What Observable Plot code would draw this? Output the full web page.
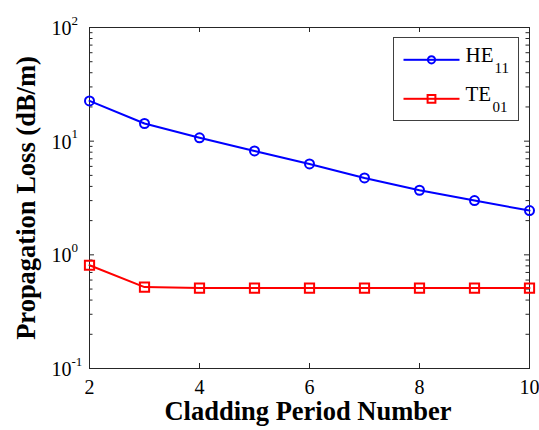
<!DOCTYPE html>
<html>
<head>
<meta charset="utf-8">
<script src="https://cdn.jsdelivr.net/npm/d3@7"></script>
<script src="https://cdn.jsdelivr.net/npm/@observablehq/plot@0.6"></script>
<style>
  html, body { margin: 0; padding: 0; background: #ffffff; }
</style>
</head>
<body>
<div id="chart"></div>
<script>
// ---- data ----
const periods = [2, 3, 4, 5, 6, 7, 8, 9, 10];
const he11 = [22.6, 14.3, 10.7, 8.2, 6.3, 4.75, 3.7, 3.0, 2.45];
const te01 = [0.81, 0.52, 0.51, 0.51, 0.51, 0.51, 0.51, 0.51, 0.51];
const xTicks = [2, 4, 6, 8, 10];
const yDecades = [0.1, 1, 10, 100];
const yExponents = ["-1", "0", "1", "2"];
const seriesNames = ["HE", "TE"];
const seriesSubs = ["11", "01"];
const seriesColors = ["#0000ff", "#ff0000"];
const xLabel = "Cladding Period Number";
const yLabel = "Propagation Loss (dB/m)";

// ---- layout ----
const W = 539, H = 430;
const mL = 89, mR = 10, mT = 27, mB = 62;
const iW = W - mL - mR, iH = H - mT - mB;
const axisColor = "#262626";
const font = "'Liberation Serif', 'Times New Roman', serif";

const heData = periods.map((p, i) => ({x: p, y: he11[i]}));
const teData = periods.map((p, i) => ({x: p, y: te01[i]}));
const yMinor = [];
yDecades.slice(0, -1).forEach(d => { for (let k = 2; k <= 9; k++) yMinor.push(d * k); });
const yTicksAll = yDecades.map((d, i) => ({v: d, e: yExponents[i]}));

const tickLen = 5, minorLen = 3.5;

// legend geometry (pixel offsets from frame top-left)
const legBox = {left: 304, right: 11, top: 10, bottom: 248};
const legRowsY = [32.3, 71.3];

const mid = {lineAnchor: "middle"};

const marks = [
  Plot.frame({stroke: axisColor, strokeWidth: 1}),
  Plot.tickX(xTicks, {x: d => d, insetTop: iH - tickLen, stroke: axisColor}),
  Plot.tickX(xTicks, {x: d => d, insetBottom: iH - tickLen, stroke: axisColor}),
  Plot.tickY(yDecades, {y: d => d, insetRight: iW - tickLen, stroke: axisColor}),
  Plot.tickY(yDecades, {y: d => d, insetLeft: iW - tickLen, stroke: axisColor}),
  Plot.tickY(yMinor, {y: d => d, insetRight: iW - minorLen, stroke: axisColor}),
  Plot.tickY(yMinor, {y: d => d, insetLeft: iW - minorLen, stroke: axisColor}),
  // x tick labels
  Plot.text(xTicks, {x: d => d, frameAnchor: "bottom", ...mid, textAnchor: "middle", text: d => String(d), dy: 18.9, fontSize: 20, fill: "#000"}),
  // y tick labels: base "10" + exponent
  Plot.text(yTicksAll, {y: d => d.v, frameAnchor: "left", ...mid, text: () => "10", textAnchor: "end", dx: -18, dy: 1, fontSize: 20, fill: "#000"}),
  Plot.text(yTicksAll, {y: d => d.v, frameAnchor: "left", ...mid, text: d => d.e, textAnchor: "start", dx: -18, dy: -7, fontSize: 13, fill: "#000"}),
  // axis titles
  Plot.text([xLabel], {frameAnchor: "bottom", ...mid, textAnchor: "middle", text: d => d, dx: -1.5, dy: 43.5, fontSize: 26.5, fontWeight: "bold", fill: "#000"}),
  Plot.text([yLabel], {frameAnchor: "left", ...mid, textAnchor: "middle", text: d => d, rotate: -90, dx: -63.4, dy: 0, fontSize: 26.5, fontWeight: "bold", fill: "#000"}),
  // data
  Plot.line(heData, {x: "x", y: "y", stroke: seriesColors[0], strokeWidth: 2}),
  Plot.dot(heData, {x: "x", y: "y", r: 4.5, symbol: "circle", stroke: seriesColors[0], strokeWidth: 2, fill: "none"}),
  Plot.line(teData, {x: "x", y: "y", stroke: seriesColors[1], strokeWidth: 2}),
  Plot.dot(teData, {x: "x", y: "y", r: 5.2, symbol: "square", stroke: seriesColors[1], strokeWidth: 2, fill: "none"}),
  // legend box
  Plot.frame({fill: "#ffffff", stroke: "#404040", strokeWidth: 1, insetLeft: legBox.left, insetRight: legBox.right, insetTop: legBox.top, insetBottom: legBox.bottom})
];

seriesNames.forEach((name, i) => {
  const cy = legRowsY[i];
  marks.push(
    Plot.frame({fill: seriesColors[i], stroke: null, insetLeft: 314, insetRight: 70, insetTop: cy - 1, insetBottom: iH - cy - 1}),
    Plot.dot([name], {frameAnchor: "top-left", dx: 342, dy: cy, r: i === 0 ? 3.6 : 4.4, symbol: i === 0 ? "circle" : "square", stroke: seriesColors[i], strokeWidth: 2, fill: "none"}),
    Plot.text([name], {frameAnchor: "top-left", ...mid, text: d => d, textAnchor: "start", dx: 376, dy: cy - 4.3, fontSize: 21, fill: "#000"}),
    Plot.text([seriesSubs[i]], {frameAnchor: "top-left", ...mid, text: d => d, textAnchor: "start", dx: i === 0 ? 405 : 403, dy: cy + 8.6, fontSize: 15, fill: "#000"})
  );
});

const chart = Plot.plot({
  width: W,
  height: H,
  marginLeft: mL,
  marginRight: mR,
  marginTop: mT,
  marginBottom: mB,
  style: {fontFamily: font, background: "#ffffff", color: "#000"},
  x: {domain: [2, 10], axis: null},
  y: {type: "log", domain: [0.1, 100], axis: null},
  marks
});
document.getElementById("chart").appendChild(chart);
</script>
</body>
</html>
